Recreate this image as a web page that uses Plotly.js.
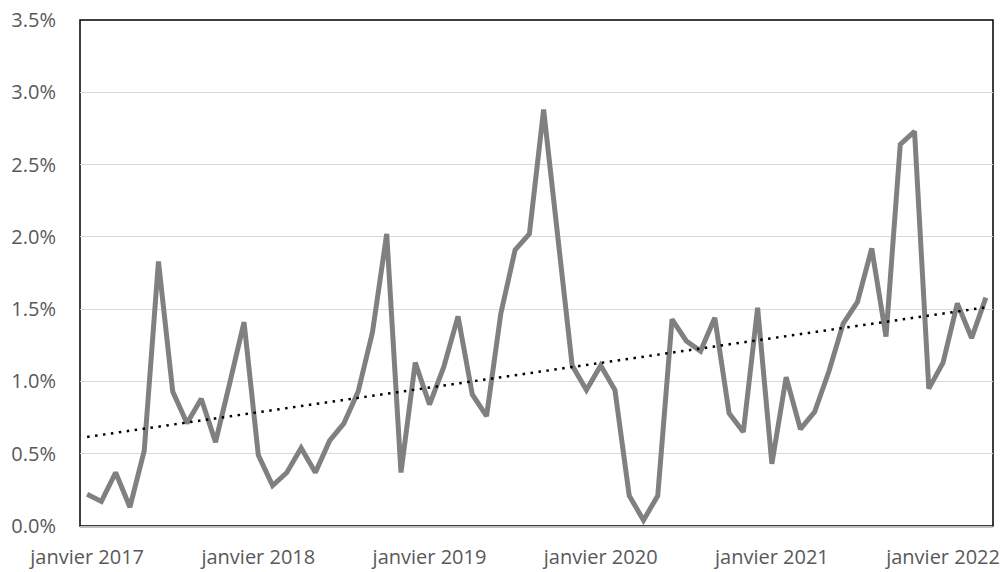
<!DOCTYPE html>
<html>
<head>
<meta charset="utf-8">
<script src="https://cdn.plot.ly/plotly-3.0.1.min.js"></script>
<style>html,body{margin:0;padding:0;background:#fff;}#chart{width:1005px;height:572px;}</style>
</head>
<body>
<div id="chart"></div>
<script>
// Month names and years for the category axis (janvier 2017 .. avril 2022)
var monthNames = ["janvier","février","mars","avril","mai","juin","juillet","août","septembre","octobre","novembre","décembre"];
var startYear = 2017;
var monthCount = 64;

// Monthly values, in percent
var values = [
  0.22, 0.17, 0.37, 0.13, 0.52, 1.83, 0.93, 0.71, 0.88, 0.58, 0.99, 1.41,
  0.49, 0.28, 0.37, 0.54, 0.37, 0.59, 0.71, 0.93, 1.34, 2.02, 0.37, 1.13,
  0.84, 1.10, 1.45, 0.91, 0.76, 1.47, 1.91, 2.02, 2.88, 1.99, 1.11, 0.94,
  1.11, 0.94, 0.21, 0.04, 0.21, 1.43, 1.28, 1.21, 1.44, 0.78, 0.65, 1.51,
  0.43, 1.03, 0.67, 0.79, 1.07, 1.40, 1.55, 1.92, 1.31, 2.64, 2.73, 0.95,
  1.13, 1.54, 1.30, 1.58
];

// Tick labels shown on the x axis
var tickYears = [2017, 2018, 2019, 2020, 2021, 2022];

var categories = [];
for (var i = 0; i < monthCount; i++) {
  categories.push(monthNames[i % 12] + " " + (startYear + Math.floor(i / 12)));
}
var tickVals = tickYears.map(function (y) { return "janvier " + y; });

// Linear trendline (least squares), as Excel computes it
var n = values.length, sx = 0, sy = 0, sxy = 0, sxx = 0;
for (var k = 0; k < n; k++) { sx += k; sy += values[k]; sxy += k * values[k]; sxx += k * k; }
var slope = (n * sxy - sx * sy) / (n * sxx - sx * sx);
var intercept = (sy - slope * sx) / n;
var trend = values.map(function (_, k) { return intercept + slope * k; });

var font = "Open Sans, Noto Sans, sans-serif";
var textColor = "#595959";

var data = [
  {
    x: categories, y: values, type: "scatter", mode: "lines",
    line: {color: "#808080", width: 5, shape: "linear"},
    hoverinfo: "x+y", showlegend: false
  },
  {
    x: categories, y: trend, type: "scatter", mode: "lines",
    line: {color: "#000000", width: 2.5, dash: "2.5px,5.5px"},
    hoverinfo: "skip", showlegend: false
  }
];

var layout = {
  width: 1005, height: 572,
  margin: {l: 80, r: 12, t: 20, b: 46, pad: 0},
  paper_bgcolor: "#ffffff", plot_bgcolor: "#ffffff",
  font: {family: font, size: 20, color: textColor},
  showlegend: false,
  xaxis: {
    type: "category",
    categoryorder: "array", categoryarray: categories,
    range: [-0.5, monthCount - 0.5],
    tickmode: "array", tickvals: tickVals, ticktext: tickVals,
    showgrid: false, zeroline: false,
    showline: true, linecolor: "#bfbfbf", linewidth: 1.5,
    ticks: "", ticklabelstandoff: 12,
    tickfont: {family: font, size: 20, color: textColor},
    tickangle: 0
  },
  yaxis: {
    range: [0, 3.5],
    tickmode: "linear", tick0: 0, dtick: 0.5,
    tickformat: ".1f", ticksuffix: "%",
    showgrid: true, gridcolor: "#d9d9d9", gridwidth: 1,
    zeroline: false, showline: false,
    ticks: "", ticklabelstandoff: 23,
    tickfont: {family: font, size: 20, color: textColor}
  },
  shapes: [
    {type: "rect", xref: "paper", yref: "paper", x0: 0, x1: 1, y0: 0, y1: 1,
     line: {color: "#000000", width: 1.5}, fillcolor: "rgba(0,0,0,0)", layer: "below"}
  ]
};

Plotly.newPlot("chart", data, layout, {displayModeBar: false, staticPlot: true});
</script>
</body>
</html>
